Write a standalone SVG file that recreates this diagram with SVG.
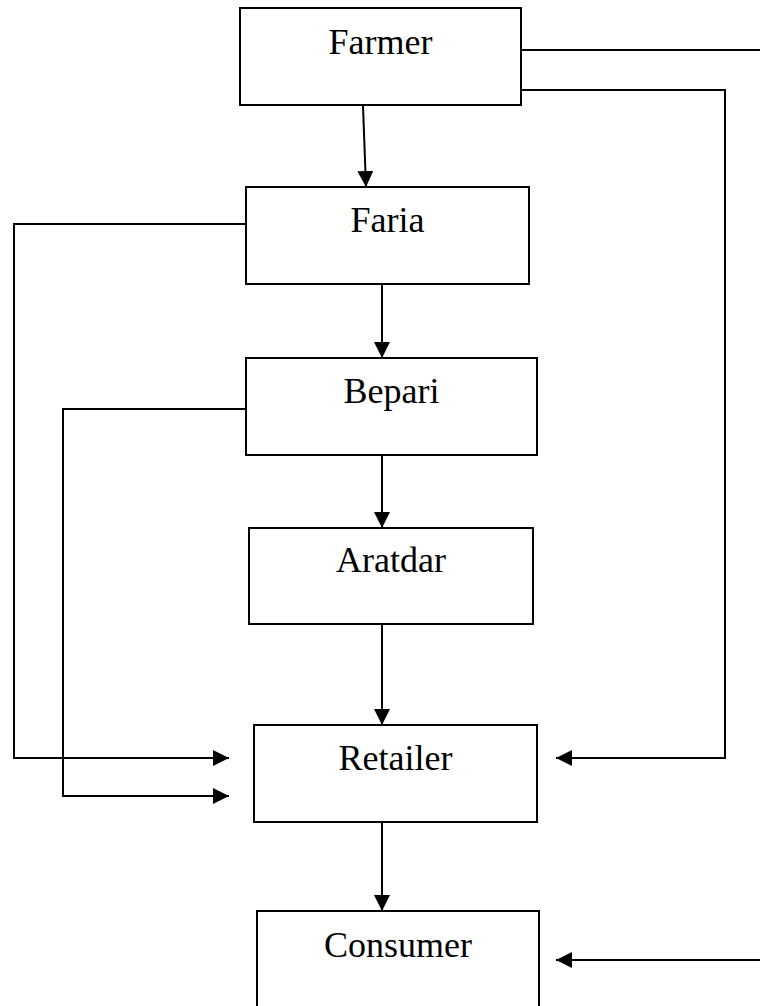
<svg xmlns="http://www.w3.org/2000/svg" width="760" height="1006" viewBox="0 0 760 1006">
<style>
.box{fill:#fff;stroke:#000;stroke-width:2}
.lbl{font-family:"Liberation Serif","Times New Roman",serif;font-size:36px;fill:#000;text-anchor:middle}
.ln{fill:none;stroke:#000;stroke-width:2}
</style>
<defs>
<marker id="ah" markerUnits="userSpaceOnUse" markerWidth="16" markerHeight="16" refX="16" refY="8" orient="auto">
<path d="M0,0 L16,8 L0,16 Z" fill="#000"/>
</marker>
</defs>
<rect width="760" height="1006" fill="#fff"/>
<g id="connectors">
<path class="ln" d="M363,106 L366,187" marker-end="url(#ah)"/>
<path class="ln" d="M382,284 L382,358" marker-end="url(#ah)"/>
<path class="ln" d="M382,455 L382,528" marker-end="url(#ah)"/>
<path class="ln" d="M382,624 L382,725" marker-end="url(#ah)"/>
<path class="ln" d="M382,822 L382,911" marker-end="url(#ah)"/>
<path class="ln" d="M246,224 L14,224 L14,758 L229,758" marker-end="url(#ah)"/>
<path class="ln" d="M246,409 L63,409 L63,796 L229,796" marker-end="url(#ah)"/>
<path class="ln" d="M521,90 L725,90 L725,758 L556,758" marker-end="url(#ah)"/>
<path class="ln" d="M521,50 L760,50"/>
<path class="ln" d="M760,960 L556,960" marker-end="url(#ah)"/>
</g>
<g id="farmer"><rect class="box" x="240" y="8" width="281" height="97"/><text class="lbl" x="380.5" y="53.5">Farmer</text></g>
<g id="faria"><rect class="box" x="246" y="187" width="283" height="97"/><text class="lbl" x="387.5" y="231.5">Faria</text></g>
<g id="bepari"><rect class="box" x="246" y="358" width="291" height="97"/><text class="lbl" x="391.5" y="402.5">Bepari</text></g>
<g id="aratdar"><rect class="box" x="249" y="528" width="284" height="96"/><text class="lbl" x="391" y="571.5">Aratdar</text></g>
<g id="retailer"><rect class="box" x="254" y="725" width="283" height="97"/><text class="lbl" x="395.5" y="770">Retailer</text></g>
<g id="consumer"><rect class="box" x="257" y="911" width="282" height="100"/><text class="lbl" x="398" y="956.5">Consumer</text></g>
</svg>
